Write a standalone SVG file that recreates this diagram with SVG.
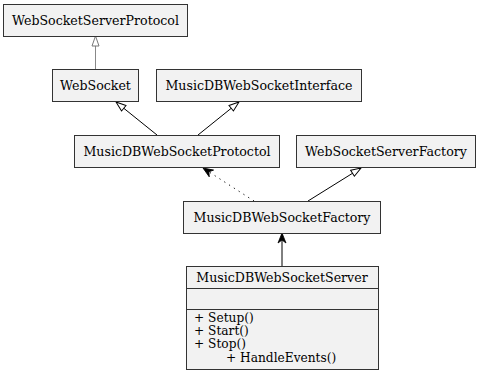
<svg xmlns="http://www.w3.org/2000/svg" width="480" height="374" viewBox="0 0 480 374">
  <style>
    .box { fill: #f2f2f2; stroke: #333; stroke-width: 1; }
    .sep { stroke: #333; stroke-width: 1; }
    text { font-family: "DejaVu Serif", "Liberation Serif", serif; font-size: 12.6px; fill: #000; }
    .c { text-anchor: middle; }
    .m { font-size: 12.2px; }
    .edge { fill: none; stroke: #000; stroke-width: 1; }
    .grey { stroke: #888; }
    .dot { stroke-dasharray: 1.2 4.5; }
  </style>
  <defs>
    <marker id="tri" markerWidth="12" markerHeight="9" refX="10" refY="3.5" orient="auto" markerUnits="userSpaceOnUse" overflow="visible">
      <path d="M0,0 L10,3.5 L0,7 Z" fill="#fff" stroke="#000" stroke-width="1"/>
    </marker>
    <marker id="triGrey" markerWidth="12" markerHeight="9" refX="10" refY="3.5" orient="auto" markerUnits="userSpaceOnUse" overflow="visible">
      <path d="M0,0 L10,3.5 L0,7 Z" fill="#fff" stroke="#777" stroke-width="1"/>
    </marker>
    <marker id="vee" markerWidth="12" markerHeight="9" refX="10" refY="4" orient="auto" markerUnits="userSpaceOnUse" overflow="visible">
      <path d="M0,0 L10,4 L0,8 L3,4 Z" fill="#000" stroke="#000" stroke-width="0.8"/>
    </marker>
  </defs>

  <!-- connectors -->
  <g id="edges">
    <line class="edge grey" x1="95.5" y1="69" x2="95.5" y2="36" marker-end="url(#triGrey)"/>
    <line class="edge" x1="157" y1="135" x2="116" y2="102" marker-end="url(#tri)"/>
    <line class="edge" x1="198" y1="135" x2="239" y2="102" marker-end="url(#tri)"/>
    <line class="edge dot" x1="254" y1="201" x2="203" y2="168" marker-end="url(#vee)"/>
    <line class="edge" x1="308" y1="201" x2="361" y2="168" marker-end="url(#tri)"/>
    <line class="edge" x1="282" y1="266" x2="282" y2="233" marker-end="url(#vee)"/>
  </g>

  <!-- classes -->
  <g id="WebSocketServerProtocol">
    <rect class="box" x="3.5" y="4.5" width="184" height="32"/>
    <text class="c" x="95.5" y="24.5">WebSocketServerProtocol</text>
  </g>
  <g id="WebSocket">
    <rect class="box" x="52.5" y="69.5" width="86" height="32"/>
    <text class="c" x="95.5" y="89.5">WebSocket</text>
  </g>
  <g id="MusicDBWebSocketInterface">
    <rect class="box" x="156.5" y="69.5" width="205" height="32"/>
    <text class="c" x="259" y="89.5">MusicDBWebSocketInterface</text>
  </g>
  <g id="MusicDBWebSocketProtoctol">
    <rect class="box" x="74.5" y="135.5" width="205" height="32"/>
    <text class="c" x="177" y="155.5">MusicDBWebSocketProtoctol</text>
  </g>
  <g id="WebSocketServerFactory">
    <rect class="box" x="296.5" y="135.5" width="179" height="32"/>
    <text class="c" x="386" y="155.5">WebSocketServerFactory</text>
  </g>
  <g id="MusicDBWebSocketFactory">
    <rect class="box" x="183.5" y="201.5" width="197" height="32"/>
    <text class="c" x="282" y="221.5">MusicDBWebSocketFactory</text>
  </g>
  <g id="MusicDBWebSocketServer">
    <rect class="box" x="186.5" y="266.5" width="192" height="103"/>
    <line class="sep" x1="186.5" y1="288.5" x2="378.5" y2="288.5"/>
    <line class="sep" x1="186.5" y1="309.5" x2="378.5" y2="309.5"/>
    <text class="c" x="282" y="282">MusicDBWebSocketServer</text>
    <text class="m" x="194" y="322">+ Setup()</text>
    <text class="m" x="194" y="335">+ Start()</text>
    <text class="m" x="194" y="348">+ Stop()</text>
    <text class="m" x="226" y="362">+ HandleEvents()</text>
  </g>
</svg>
